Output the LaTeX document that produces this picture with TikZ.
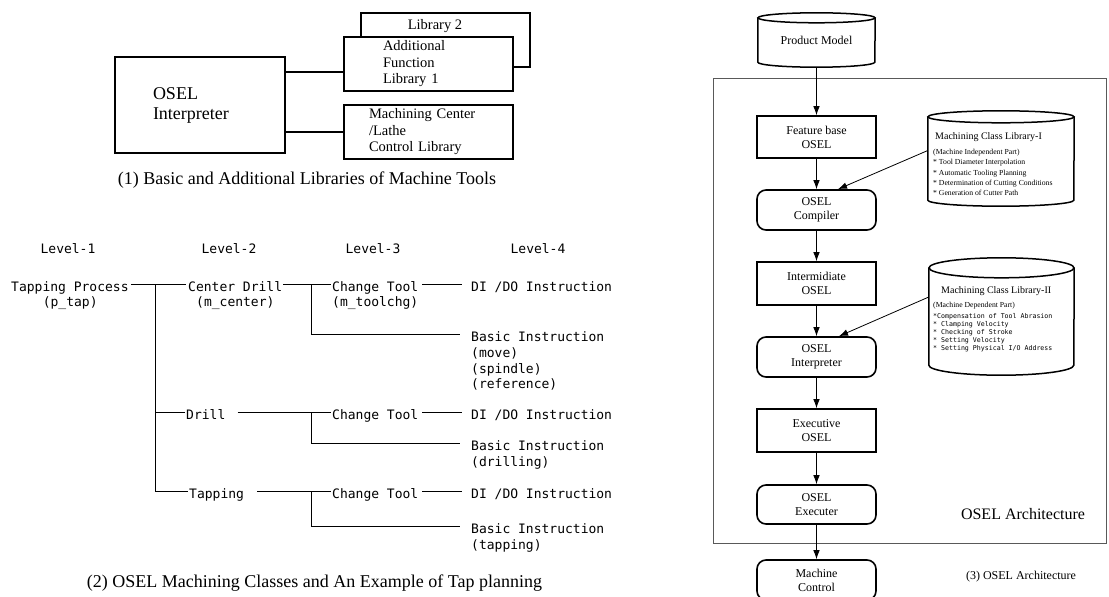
\documentclass[tikz,border=0pt]{standalone}
\usepackage{fontspec}
\setmainfont{Liberation Serif}
\newfontfamily\treefont{DejaVu Sans Mono}
\usetikzlibrary{arrows.meta,calc}

\tikzset{
  libbox/.style={draw, line width=1.6pt, fill=white, minimum width=169pt, minimum height=54pt,
    inner ysep=0pt, align=left, font=\fontsize{14.5}{16.5}\selectfont},
  treetext/.style={font=\treefont\fontsize{13}{15}\selectfont, inner sep=0pt, anchor=base west},
  levelhead/.style={treetext, anchor=base},
  treeline/.style={line width=0.8pt},
  flowbox/.style={draw, line width=1.6pt, minimum width=119pt, align=center,
    font=\fontsize{12}{14}\selectfont},
  flowround/.style={flowbox, rounded corners=9pt},
  flowarrow/.style={-{Latex[length=9pt,width=6.5pt]}, line width=0.8pt},
  cyl/.style={draw, line width=1.5pt},
  smallnote/.style={font=\fontsize{7.7}{10.3}\selectfont, inner sep=0pt, anchor=west, align=left},
  caption/.style={font=\fontsize{18}{20}\selectfont},
}

\begin{document}
\begin{tikzpicture}[x=1pt, y=-1pt]
\useasboundingbox (0,0) rectangle (1109,597);

% ---------- (1) basic and additional libraries ----------
\node[draw, line width=1.8pt, minimum width=170pt, minimum height=96pt, text width=94pt,
      inner xsep=38pt, align=left, font=\fontsize{18}{20}\selectfont] (osel) at (200,105)
      {OSEL\\Interpreter};
\node[libbox] (libtwo) at (445.5,40) {};
\node[font=\fontsize{14.5}{16.5}\selectfont] (libtwotxt) at (435,26) {Library 2};
\node[libbox, text width=91pt, inner xsep=39pt] (addfn) at (428.5,64)
      {Additional\\Function\\Library 1};
\node[libbox, text width=119pt, inner xsep=25pt] (mctl) at (428.5,132)
      {Machining Center\\/Lathe\\Control Library};
\coordinate (a1) at ([yshift=-8pt]addfn.west);
\draw[line width=1.6pt] (osel.east |- a1) -- (a1);
\draw[line width=1.6pt] (osel.east |- mctl.west) -- (mctl.west);
\node[caption] (cap1) at (307,180) {(1) Basic and Additional Libraries of Machine Tools};

% ---------- (2) machining classes ----------
\node[levelhead] (lv1) at (68,253) {Level-1};
\node[levelhead] (lv2) at (229,253) {Level-2};
\node[levelhead] (lv3) at (373,253) {Level-3};
\node[levelhead] (lv4) at (538,253) {Level-4};

\node[treetext] (tp)   at (11,291)   {Tapping Process};
\node[treetext] (ptap) at (42.6,306) {(p\_tap)};
\node[treetext] (cd)   at (188,291)  {Center Drill};
\node[treetext] (mcen) at (196,306)  {(m\_center)};
\node[treetext] (ct1)  at (332,291)  {Change Tool};
\node[treetext] (mtc)  at (332,306)  {(m\_toolchg)};
\node[treetext] (dido1) at (471,291) {DI /DO Instruction};
\node[treetext] (bi1)  at (471,341)  {Basic Instruction};
\node[treetext] (bi1a) at (471,357)  {(move)};
\node[treetext] (bi1b) at (471,373)  {(spindle)};
\node[treetext] (bi1c) at (471,388)  {(reference)};

\node[treetext] (drill) at (186,419) {Drill};
\node[treetext] (ct2)  at (332,419)  {Change Tool};
\node[treetext] (dido2) at (471,419) {DI /DO Instruction};
\node[treetext] (bi2)  at (471,450)  {Basic Instruction};
\node[treetext] (bi2a) at (471,466)  {(drilling)};

\node[treetext] (tapn) at (189,498)  {Tapping};
\node[treetext] (ct3)  at (332,498)  {Change Tool};
\node[treetext] (dido3) at (471,498) {DI /DO Instruction};
\node[treetext] (bi3)  at (471,533)  {Basic Instruction};
\node[treetext] (bi3a) at (471,549)  {(tapping)};

\coordinate (trunk) at ($(cd.base west)+(-33pt,7pt)$);
\coordinate (j1) at ($(ct1.base west)+(-21pt,7pt)$);
\coordinate (j2) at ($(ct2.base west)+(-21pt,7pt)$);
\coordinate (j3) at ($(ct3.base west)+(-21pt,7pt)$);

\draw[treeline] ([shift={(2pt,7pt)}]tp.base east) -- ([shift={(-2pt,7pt)}]cd.base west);
\draw[treeline] (trunk) |- ([shift={(-1pt,7pt)}]drill.base west);
\draw[treeline] (trunk) |- ([shift={(-1pt,7pt)}]tapn.base west);

\draw[treeline] ([shift={(1pt,7pt)}]cd.base east) -- ([shift={(-1pt,7pt)}]ct1.base west);
\draw[treeline] (j1) |- ([shift={(-11pt,7pt)}]bi1.base west);
\draw[treeline] ([shift={(4pt,7pt)}]ct1.base east) -- ([shift={(-9pt,7pt)}]dido1.base west);

\draw[treeline] ([shift={(12pt,7pt)}]drill.base east) -- ([shift={(-1pt,7pt)}]ct2.base west);
\draw[treeline] (j2) |- ([shift={(-11pt,7pt)}]bi2.base west);
\draw[treeline] ([shift={(4pt,7pt)}]ct2.base east) -- ([shift={(-9pt,7pt)}]dido2.base west);

\draw[treeline] ([shift={(13pt,7pt)}]tapn.base east) -- ([shift={(-1pt,7pt)}]ct3.base west);
\draw[treeline] (j3) |- ([shift={(-11pt,7pt)}]bi3.base west);
\draw[treeline] ([shift={(4pt,7pt)}]ct3.base east) -- ([shift={(-9pt,7pt)}]dido3.base west);

\node[caption] (cap2) at (314.5,583) {(2) OSEL Machining Classes and An Example of Tap planning};

% ---------- (3) OSEL architecture ----------
\draw[line width=1pt, black!65] (713,78) rectangle (1106,543);

\node[minimum width=117pt, minimum height=44pt, inner sep=0pt,
      font=\fontsize{12}{14}\selectfont] (pm) at (816.5,40) {Product Model};
\draw[cyl] (pm.north west) -- (pm.south west)
      arc[start angle=180, end angle=360, x radius=58.5pt, y radius=5pt] -- (pm.north east);
\draw[cyl] (pm.north) ellipse [x radius=58.5pt, y radius=5pt];

\node[flowbox, minimum height=42pt] (feat) at (816.5,137) {Feature base\\OSEL};
\node[flowround, minimum height=40pt] (comp) at (816.5,210) {OSEL\\Compiler};
\node[flowbox, minimum height=43pt] (inter) at (816.5,283.5) {Intermidiate\\OSEL};
\node[flowround, minimum height=40pt] (interp) at (816.5,357) {OSEL\\Interpreter};
\node[flowbox, minimum height=43pt] (exec) at (816.5,430.5) {Executive\\OSEL};
\node[flowround, minimum height=39pt] (execr) at (816.5,504.5) {OSEL\\Executer};
\node[flowround, minimum height=40pt] (mctrl) at (816.5,580) {Machine\\Control};

\draw[flowarrow] ([yshift=-5pt]pm.south) -- (feat.north);
\draw[flowarrow] (feat.south) -- (comp.north);
\draw[flowarrow] (comp.south) -- (inter.north);
\draw[flowarrow] (inter.south) -- (interp.north);
\draw[flowarrow] (interp.south) -- (exec.north);
\draw[flowarrow] (exec.south) -- (execr.north);
\draw[flowarrow] (execr.south) -- (mctrl.north);

% class library I
\node[minimum width=146pt, minimum height=83pt, inner sep=0pt] (mcl1) at (1001,158.5) {};
\draw[cyl] (mcl1.north west) -- (mcl1.south west)
      arc[start angle=180, end angle=360, x radius=73pt, y radius=6pt] -- (mcl1.north east);
\draw[cyl] (mcl1.north) ellipse [x radius=73pt, y radius=6pt];
\node[font=\fontsize{10}{12}\selectfont, inner sep=0pt, anchor=west] (mcl1title) at (935,137)
      {Machining Class Library-I};
\node[smallnote] (mcl1notes) at (933,172.5)
      {(Machine Independent Part)\\* Tool Diameter Interpolation\\* Automatic Tooling Planning\\
       * Determination of Cutting Conditions\\* Generation of Cutter Path};

% class library II
\node[minimum width=145pt, minimum height=97pt, inner sep=0pt] (mcl2) at (1001.5,316.5) {};
\draw[cyl] (mcl2.north west) -- (mcl2.south west)
      arc[start angle=180, end angle=360, x radius=72.5pt, y radius=10pt] -- (mcl2.north east);
\draw[cyl] (mcl2.north) ellipse [x radius=72.5pt, y radius=10pt];
\node[font=\fontsize{10}{12}\selectfont, inner sep=0pt, anchor=west] (mcl2title) at (941,291)
      {Machining Class Library-II};
\node[smallnote] (mcl2sub) at (933,306) {(Machine Dependent Part)};
\node[font=\treefont\fontsize{6.6}{8}\selectfont, inner sep=0pt, anchor=west, align=left]
      (mcl2notes) at (933,333)
      {*Compensation of Tool Abrasion\\* Clamping Velocity\\* Checking of Stroke\\
       * Setting Velocity\\* Setting Physical I/O Address};

\draw[flowarrow] ([yshift=8pt]mcl1.west) -- ([xshift=21.5pt]comp.north);
\draw[flowarrow] ([yshift=19.5pt]mcl2.west) -- ([xshift=22.5pt]interp.north);

\node[font=\fontsize{16}{18}\selectfont] (archlabel) at (1023,514) {OSEL Architecture};
\node[font=\fontsize{12}{14}\selectfont] (cap3) at (1021,577) {(3) OSEL Architecture};
\end{tikzpicture}
\end{document}
